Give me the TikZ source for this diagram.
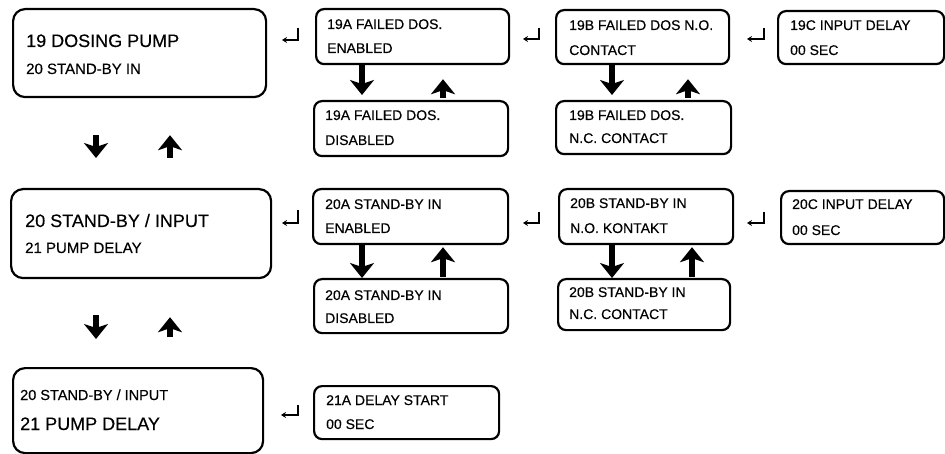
\documentclass[tikz,border=0pt]{standalone}
\usepackage{fontspec}
\setmainfont{Liberation Sans}[BoldFont={Liberation Sans}, BoldFeatures={FakeBold=0.35}]
\usetikzlibrary{arrows.meta,calc}
\tikzset{
  bigbox/.style={draw, line width=2.2pt, rounded corners=12pt, inner sep=0pt, anchor=north west},
  smallbox/.style={draw, line width=2.2pt, rounded corners=8pt, inner sep=0pt, anchor=north west},
  bigtxt/.style={anchor=base west, inner sep=0pt, font=\fontsize{18}{20}\selectfont\bfseries},
  medtxt/.style={anchor=base west, inner sep=0pt, font=\fontsize{15}{17}\selectfont\bfseries},
  smtxt/.style={anchor=base west, inner sep=0pt, font=\fontsize{14}{16}\selectfont\bfseries},
  flow/.style={line width=6.5pt, -{Stealth[length=15pt,width=24pt,inset=4pt]}},
  ret/.style={line width=1.3pt, -{Stealth[length=5pt,width=6pt]}},
}
\newcommand\mkbox[6]{%
  \node[#6, minimum width={(#4-#2)*1pt}, minimum height={(#5-#3)*1pt}] (#1) at (#2,#3) {};}
\begin{document}
\begin{tikzpicture}[x=1pt,y=-1pt]
\useasboundingbox (0,0) rectangle (945,454);
% boxes
\mkbox{b19}{12}{8}{265}{96}{bigbox}
\mkbox{b19a}{315}{8}{508}{63}{smallbox}
\mkbox{b19al}{313}{100}{507}{155}{smallbox}
\mkbox{b19b}{555}{9}{728}{63}{smallbox}
\mkbox{b19bl}{555}{100}{730}{153}{smallbox}
\mkbox{b19c}{777}{10}{943}{63}{smallbox}
\mkbox{b20}{10}{188}{270}{277}{bigbox}
\mkbox{b20a}{312}{188}{507}{243}{smallbox}
\mkbox{b20al}{313}{278}{507}{332}{smallbox}
\mkbox{b20b}{558}{188}{732}{243}{smallbox}
\mkbox{b20bl}{557}{278}{729}{329}{smallbox}
\mkbox{b20c}{780}{190}{943}{243}{smallbox}
\mkbox{b21}{12}{367}{262}{452}{bigbox}
\mkbox{b21a}{313}{385}{498}{438}{smallbox}
% texts
\node[bigtxt] (t19a) at (26,47) {19 DOSING PUMP};
\node[medtxt] (t19b) at (26,74) {20 STAND-BY IN};
\node[smtxt] (t19aa) at (327,29) {19A FAILED DOS.};
\node[smtxt] (t19ab) at (327,53) {ENABLED};
\node[smtxt] (t19ala) at (325,120) {19A FAILED DOS.};
\node[smtxt] (t19alb) at (325,145) {DISABLED};
\node[smtxt] (t19ba) at (569,30) {19B FAILED DOS N.O.};
\node[smtxt] (t19bb) at (569,55) {CONTACT};
\node[smtxt] (t19bla) at (569,120) {19B FAILED DOS.};
\node[smtxt] (t19blb) at (569,143) {N.C. CONTACT};
\node[smtxt] (t19ca) at (790,30) {19C INPUT DELAY};
\node[smtxt] (t19cb) at (790,55) {00 SEC};
\node[bigtxt] (t20a) at (25,227) {20 STAND-BY / INPUT};
\node[medtxt] (t20b) at (25,253) {21 PUMP DELAY};
\node[smtxt] (t20aa) at (325,209) {20A STAND-BY IN};
\node[smtxt] (t20ab) at (325,233) {ENABLED};
\node[smtxt] (t20ala) at (325,300) {20A STAND-BY IN};
\node[smtxt] (t20alb) at (325,323) {DISABLED};
\node[smtxt] (t20ba) at (570,208) {20B STAND-BY IN};
\node[smtxt] (t20bb) at (570,233) {N.O. KONTAKT};
\node[smtxt] (t20bla) at (569,297) {20B STAND-BY IN};
\node[smtxt] (t20blb) at (569,319) {N.C. CONTACT};
\node[smtxt] (t20ca) at (792,209) {20C INPUT DELAY};
\node[smtxt] (t20cb) at (792,235) {00 SEC};
\node[medtxt, font=\fontsize{14.5}{16}\selectfont\bfseries] (t21a) at (20,400) {20 STAND-BY / INPUT};
\node[bigtxt] (t21b) at (20,430) {21 PUMP DELAY};
\node[smtxt] (t21aa) at (326,405) {21A DELAY START};
\node[smtxt] (t21ab) at (326,429) {00 SEC};
% main flow arrows
\draw[flow, shorten <=37pt, shorten >=30pt] ([xshift=84pt]b19.south west) -- ([xshift=86pt]b20.north west);
\draw[flow, shorten <=30pt, shorten >=37pt] ([xshift=160pt]b20.north west) -- ([xshift=158pt]b19.south west);
\draw[flow, shorten <=36pt, shorten >=28pt] ([xshift=86pt]b20.south west) -- ([xshift=84pt]b21.north west);
\draw[flow, shorten <=30pt, shorten >=38pt] ([xshift=158pt]b21.north west) -- ([xshift=160pt]b20.south west);
% sub flow arrows
\draw[flow, shorten >=5pt] ([xshift=47pt]b19a.south west) -- ([xshift=49pt]b19al.north west);
\draw[flow, shorten <=2pt, shorten >=14pt] ([xshift=130pt]b19al.north west) -- ([xshift=128pt]b19a.south west);
\draw[flow, shorten >=5pt] ([xshift=57pt]b19b.south west) -- ([xshift=57pt]b19bl.north west);
\draw[flow, shorten <=2pt, shorten >=14pt] ([xshift=133pt]b19bl.north west) -- ([xshift=133pt]b19b.south west);
\draw[flow] ([xshift=50pt]b20a.south west) -- ([xshift=49pt]b20al.north west);
\draw[flow, shorten <=1pt, shorten >=2pt] ([xshift=130pt]b20al.north west) -- ([xshift=131pt]b20a.south west);
\draw[flow] ([xshift=54pt]b20b.south west) -- ([xshift=55pt]b20bl.north west);
\draw[flow, shorten <=1pt, shorten >=2pt] ([xshift=135pt]b20bl.north west) -- ([xshift=134pt]b20b.south west);
% return symbols
\draw[ret] (298,28) -- (298,40) -- (282,40);
\draw[ret] (539,28) -- (539,39) -- (523,39);
\draw[ret] (764,28) -- (764,39) -- (747,39);
\draw[ret] (298,210) -- (298,223) -- (282,223);
\draw[ret] (539,212) -- (539,223) -- (523,223);
\draw[ret] (764,212) -- (764,223) -- (747,223);
\draw[ret] (298,405) -- (298,415) -- (281,415);
\end{tikzpicture}
\end{document}
